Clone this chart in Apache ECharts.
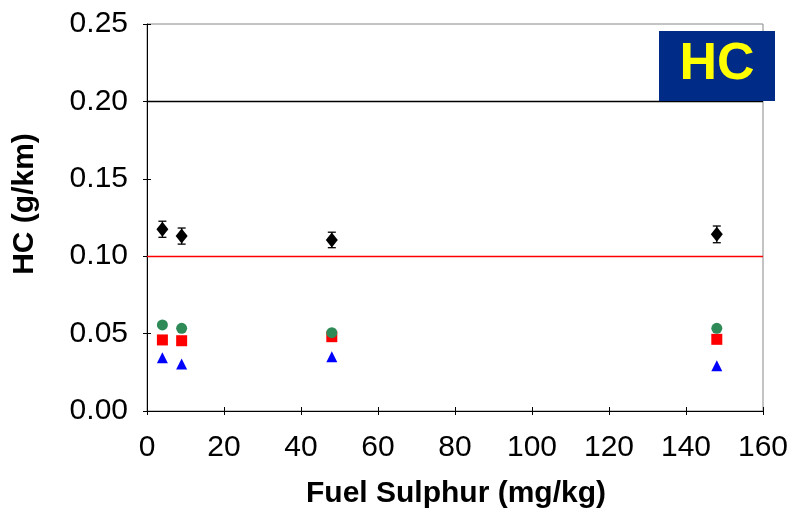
<!DOCTYPE html>
<html>
<head>
<meta charset="utf-8">
<script src="https://cdn.jsdelivr.net/npm/echarts@6/dist/echarts.min.js"></script>
<style>html,body{margin:0;padding:0;background:#fff}#c{width:797px;height:515px}</style>
</head>
<body>
<div id="c"></div>
<script>
var sulphur = [4, 9, 48, 148];
var hcBlack = [0.1174, 0.1130, 0.1105, 0.1141];
var hcBlackErr = [0.0052, 0.0052, 0.0050, 0.0054];
var hcGreen = [0.0556, 0.0534, 0.0506, 0.0534];
var hcRed = [0.0459, 0.0454, 0.0480, 0.0463];
var hcBlue = [0.0344, 0.0304, 0.0351, 0.0293];
var limitRed = 0.10;
var limitBlack = 0.20;
var xTicks = [0, 20, 40, 60, 80, 100, 120, 140, 160];
var yTicks = [0.00, 0.05, 0.10, 0.15, 0.20, 0.25];

function pairs(ys) { return sulphur.map(function (x, i) { return [x, ys[i]]; }); }
var errData = sulphur.map(function (x, i) { return [x, hcBlack[i] - hcBlackErr[i], hcBlack[i] + hcBlackErr[i]]; });

var FONT = 'Liberation Sans, Arial, sans-serif';
var chart = echarts.init(document.getElementById('c'), null, {renderer: 'canvas'});
var axisBase = {
  min: 0, axisLine: {show: true, lineStyle: {color: '#000', width: 1}},
  splitLine: {show: false}
};
chart.setOption({
  animation: false,
  grid: {left: 147, right: 34, top: 24, bottom: 104, show: true, borderColor: '#888', borderWidth: 1, backgroundColor: 'transparent'},
  xAxis: [
    Object.assign({}, axisBase, {type: 'value', max: 160, interval: 20,
      axisTick: {show: true, inside: false, length: 4, lineStyle: {color: '#000'}},
      axisLabel: {fontFamily: FONT, fontSize: 30, color: '#000', margin: 22,
        formatter: function (v) { return xTicks.indexOf(v) >= 0 ? String(v) : ''; }}}),
    Object.assign({}, axisBase, {type: 'value', max: 160, interval: 20, position: 'bottom',
      axisLine: {show: false}, axisTick: {show: true, inside: true, length: 4, lineStyle: {color: '#000'}},
      axisLabel: {show: false}})
  ],
  yAxis: [
    Object.assign({}, axisBase, {type: 'value', max: 0.25, interval: 0.05,
      axisTick: {show: true, inside: false, length: 4, lineStyle: {color: '#000'}},
      axisLabel: {fontFamily: FONT, fontSize: 30, color: '#000', margin: 19,
        formatter: function (v) { return v.toFixed(2); }}}),
    Object.assign({}, axisBase, {type: 'value', max: 0.25, interval: 0.05, position: 'left',
      axisLine: {show: false}, axisTick: {show: true, inside: true, length: 4, lineStyle: {color: '#000'}},
      axisLabel: {show: false}})
  ],
  series: [
    {
      type: 'line', data: [], xAxisIndex: 0, yAxisIndex: 0, silent: true,
      markLine: {symbol: 'none', silent: true, label: {show: false},
        data: [
          {yAxis: limitRed, lineStyle: {color: '#ff0000', width: 1.3, type: 'solid'}},
          {yAxis: limitBlack, lineStyle: {color: '#000', width: 1.3, type: 'solid'}}
        ]}
    },
    {
      type: 'custom', data: errData, z: 3,
      renderItem: function (params, api) {
        var x = api.value(0);
        var lo = api.coord([x, api.value(1)]);
        var hi = api.coord([x, api.value(2)]);
        var w = 4;
        var st = {stroke: '#000', lineWidth: 1.3};
        return {type: 'group', children: [
          {type: 'line', shape: {x1: lo[0], y1: lo[1], x2: hi[0], y2: hi[1]}, style: st},
          {type: 'line', shape: {x1: lo[0] - w, y1: lo[1], x2: lo[0] + w, y2: lo[1]}, style: st},
          {type: 'line', shape: {x1: hi[0] - w, y1: hi[1], x2: hi[0] + w, y2: hi[1]}, style: st}
        ]};
      }
    },
    {type: 'scatter', data: pairs(hcBlack), symbol: 'diamond', symbolSize: [12, 15], itemStyle: {color: '#000', opacity: 1}, z: 4},
    {type: 'scatter', data: pairs(hcRed), symbol: 'rect', symbolSize: 11, itemStyle: {color: '#ff0000', opacity: 1}, z: 4},
    {type: 'scatter', data: pairs(hcGreen), symbol: 'circle', symbolSize: 11, itemStyle: {color: '#2e8b57', opacity: 1}, z: 5},
    {type: 'scatter', data: pairs(hcBlue), symbol: 'triangle', symbolSize: [11, 11], itemStyle: {color: '#0000ff', opacity: 1}, z: 4}
  ],
  graphic: [
    {type: 'text', x: 456, y: 494, style: {text: 'Fuel Sulphur (mg/kg)', fontFamily: FONT, fontWeight: 'bold', fontSize: 30, fill: '#000', textAlign: 'center', textVerticalAlign: 'middle'}},
    {type: 'text', rotation: Math.PI / 2, x: 25, y: 204, style: {text: 'HC (g/km)', fontFamily: FONT, fontWeight: 'bold', fontSize: 30, fill: '#000', textAlign: 'center', textVerticalAlign: 'middle'}},
    {type: 'rect', shape: {x: 659, y: 31, width: 116, height: 70}, style: {fill: '#002b87'}, z: 10},
    {type: 'text', x: 717, y: 65, style: {text: 'HC', fontFamily: FONT, fontWeight: 'bold', fontSize: 52, fill: '#ffff00', textAlign: 'center', textVerticalAlign: 'middle'}, z: 11}
  ]
});
</script>
</body>
</html>
